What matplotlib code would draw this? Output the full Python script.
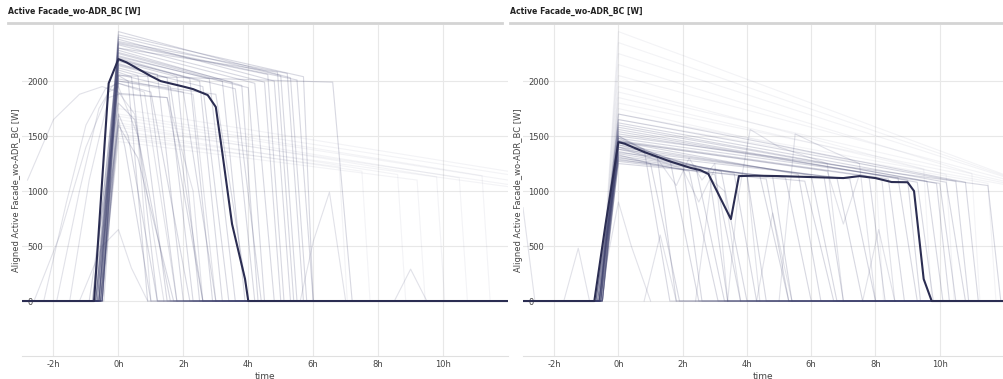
import matplotlib.pyplot as plt
from matplotlib.lines import Line2D

plt.rcParams['font.family'] = 'DejaVu Sans'

T0, T1 = -2.97, 12.0
title = 'Active Facade_wo-ADR_BC [W]'
ylab = 'Aligned Active Facade_wo-ADR_BC [W]'
xticks = [-2, 0, 2, 4, 6, 8, 10]
xticklabels = ['-2h', '0h', '2h', '4h', '6h', '8h', '10h']
yticks = [0, 500, 1000, 1500, 2000]

# ---- left panel ----
# aligned mean profile
left_mean_t = [T0, -0.75, -0.3, 0, 0.25, 1, 1.3, 2, 2.3, 2.75, 3, 3.2, 3.5, 3.9, 4, T1]
left_mean_w = [0, 0, 1980, 2200, 2170, 2045, 2000, 1950, 1927, 1873, 1764, 1350, 700, 200, 0, 0]

# single days: onset, value at 0h, knee time, knee value, back at zero
left_onset = [-0.6, -0.5, -0.7, -0.55, -0.65, -0.5, -0.8, -0.6, -0.7, -0.5, -0.55, -0.6,
              -0.75, -0.5, -0.65, -0.6, -0.7, -0.5, -0.55, -0.6, -0.7, -0.5, -0.65, -0.6,
              -0.55, -0.8, -0.6, -0.5, -0.7, -0.6, -0.65, -0.45, -0.9, -0.6, -0.5, -0.7]
left_peak = [2450, 2400, 2380, 2350, 2330, 2300, 2280, 2260, 2250, 2230, 2210, 2200,
             2180, 2160, 2150, 2120, 2100, 2080, 2050, 2020, 2000, 1980, 2340, 2420,
             2360, 2300, 2220, 2190, 2140, 2060, 2050, 1890, 1800, 1700, 1650, 1600]
left_knee_t = [5.3, 5.0, 4.8, 5.5, 4.5, 4.2, 3.8, 3.5, 3.2, 2.8, 2.5, 2.2,
               1.8, 1.5, 1.2, 0.9, 0.6, 0.4, 0.3, 2.0, 3.0, 1.0, 4.6, 5.7,
               5.2, 4.9, 4.0, 3.6, 2.6, 1.6, 6.6, 1.5, 0.5, 0.3, 0.2, 0.6]
left_knee_w = [2030, 2050, 2000, 2010, 1990, 1980, 1960, 1990, 2000, 2020, 2000, 2020,
               2040, 2030, 2060, 2050, 2050, 2040, 2000, 1900, 1880, 1900, 2060, 2040,
               2070, 2080, 1940, 1930, 1950, 1950, 1990, 1850, 1650, 1500, 1400, 1300]
left_zero_t = [5.8, 5.5, 5.3, 6.0, 5.0, 4.8, 4.3, 4.2, 3.9, 3.6, 3.2, 2.9,
               2.5, 2.3, 2.0, 1.8, 1.5, 1.2, 0.9, 3.0, 4.0, 2.2, 5.1, 6.0,
               5.7, 5.4, 4.5, 4.4, 3.4, 2.6, 7.2, 2.6, 1.6, 1.2, 1.0, 1.7]

# days with an early start or odd shape
left_odd = [
    ([-2.8, -2.0, -1.2, -0.5, 0, 0.5, 1.4], [1100, 1650, 1880, 1950, 1900, 1700, 0]),
    ([T0, -2.3, -1.6, -1.0, -0.4, 0, 0.8, 1.8], [0, 0, 900, 1600, 1930, 1980, 1900, 0]),
    ([T0, -1.9, -1.2, -0.6, -0.2, 0, 2.3, 3.0], [0, 0, 1000, 1750, 1950, 2000, 1880, 0]),
    ([T0, -1.5, -0.9, -0.3, 0, 1.5, 2.3, 2.6], [0, 0, 1100, 1850, 1880, 1850, 1000, 0]),
    ([T0, -2.6, -1.8, -1.0, -0.3, 0, 0.6, 1.0], [0, 0, 600, 1400, 1900, 1950, 1500, 0]),
    ([-1.2, -0.5, 0, 0.4, 0.9], [0, 500, 650, 300, 0]),
    ([5.6, 6.0, 6.5, 7.0], [0, 540, 990, 0]),
    ([8.5, 9.0, 9.5], [0, 290, 0]),
]

# very faint days that keep running late
left_faint_peak = [1750, 1700, 1680, 1650, 1620, 1600, 1580, 1550, 1520, 1500, 1480, 1450]
left_faint_end_t = [12, 12, 11.2, 12, 10.5, 9.8, 12, 8.6, 12, 7.5, 6.8, 9.2]
left_faint_end_w = [1180, 1150, 1140, 1100, 1120, 1130, 1060, 1150, 1040, 1180, 1220, 1100]

# ---- right panel ----
right_mean_t = [T0, -0.75, -0.4, 0, 0.2, 0.8, 1.6, 2.25, 2.55, 2.8, 3.5, 3.75, 4.25, 5,
                7, 7.5, 8, 8.5, 9, 9.2, 9.5, 9.75, T1]
right_mean_w = [0, 0, 700, 1445, 1430, 1355, 1270, 1210, 1190, 1155, 745, 1136, 1140, 1136,
                1118, 1136, 1118, 1082, 1080, 1000, 200, 0, 0]

right_faint_peak = [2450, 2350, 2250, 2150, 2050, 1950, 1900, 1850, 1800, 1750, 1700, 1650]
right_faint_end_t = [12, 12, 12, 11.0, 12, 9.5, 12, 10.2, 12, 8.0, 12, 11.5]
right_faint_end_w = [1150, 1140, 1130, 1160, 1110, 1200, 1090, 1150, 1075, 1220, 1060, 1070]

right_onset = [-0.6, -0.55, -0.7, -0.5, -0.65, -0.6, -0.5, -0.7, -0.55, -0.6, -0.65, -0.5,
               -0.6, -0.7, -0.55, -0.5, -0.65, -0.6, -0.7, -0.5, -0.55, -0.6, -0.65, -0.5,
               -0.6, -0.7, -0.55, -0.5, -0.6, -0.65, -0.7, -0.5, -0.6, -0.55]
right_peak = [1700, 1650, 1620, 1600, 1580, 1560, 1540, 1520, 1500, 1480, 1460, 1450,
              1500, 1480, 1460, 1440, 1420, 1400, 1380, 1360, 1340, 1320, 1300, 1280,
              1450, 1420, 1400, 1380, 1350, 1330, 1310, 1290, 1270, 1250]
right_knee_t = [10.8, 10.5, 10.2, 9.9, 9.6, 9.3, 9.0, 8.7, 11.5, 10.0, 8.4, 7.8,
                0.8, 1.2, 1.6, 2.0, 2.4, 2.8, 3.2, 3.6, 4.0, 4.4, 4.8, 5.2,
                5.6, 6.0, 6.4, 6.8, 7.2, 1.0, 2.2, 3.0, 4.6, 5.8]
right_knee_w = [1080, 1090, 1080, 1070, 1090, 1080, 1100, 1120, 1050, 1070, 1110, 1130,
                1380, 1330, 1290, 1260, 1230, 1200, 1180, 1160, 1150, 1140, 1130, 1120,
                1150, 1140, 1130, 1120, 1110, 1250, 1180, 1150, 1110, 1090]
right_zero_t = [11.2, 10.9, 10.8, 10.3, 10.1, 9.8, 9.4, 9.3, 11.9, 10.5, 8.9, 8.3,
                1.6, 1.8, 2.5, 2.6, 3.3, 3.4, 4.0, 4.3, 4.6, 5.3, 5.4, 6.0,
                6.3, 6.8, 7.0, 7.6, 8.0, 1.9, 3.1, 3.8, 5.3, 6.7]

right_odd = [
    ([T0, -2.6], [850, 0]),
    ([-1.7, -1.25, -0.9], [0, 480, 0]),
    ([-0.6, 0, 0.4, 1.0], [0, 900, 500, 0]),
    ([3.4, 3.7, 4.1, 5.0, 6.5, 7.0], [0, 900, 1560, 1400, 1250, 0]),
    ([5.0, 5.5, 6.5, 7.5, 8.0], [0, 1520, 1380, 1250, 0]),
    ([-0.6, 0, 1.2, 1.8, 2.2, 2.6, 3.0, 3.4], [0, 1500, 1300, 1050, 1300, 1100, 1250, 0]),
    ([-0.6, 0, 2.0, 2.5, 3.0, 4.0, 4.4], [0, 1400, 1200, 900, 1200, 1150, 0]),
    ([-0.6, 0, 6.5, 7.0, 7.5, 8.2, 8.6], [0, 1450, 1180, 700, 1150, 1100, 0]),
    ([0.8, 1.3, 1.8], [0, 600, 0]),
    ([4.3, 4.8, 5.4], [0, 800, 0]),
    ([7.6, 8.1, 8.6], [0, 650, 0]),
    ([2.4, 2.9, 3.3, 3.8], [0, 1100, 1000, 0]),
]

line_col = '#3a3d6b'
mean_col = '#2b2d52'


def day_line(onset, peak, knee_t, knee_w, zero_t):
    return [T0, onset, 0, knee_t, zero_t, T1], [0, 0, peak, knee_w, 0, 0]


def faint_line(onset, peak, end_t, end_w):
    if end_t >= T1:
        return [T0, onset, 0, T1], [0, 0, peak, end_w]
    return [T0, onset, 0, end_t, end_t + 0.25, T1], [0, 0, peak, end_w, 0, 0]


def style_axes(ax):
    ax.set_xlim(T0, T1)
    ax.set_ylim(-500, 2510)
    ax.set_xticks(xticks)
    ax.set_xticklabels(xticklabels)
    ax.set_yticks(yticks)
    ax.grid(True, color='#e8e8e8', lw=0.8, zorder=0)
    for s in ['top', 'right', 'left']:
        ax.spines[s].set_visible(False)
    ax.spines['bottom'].set_color('#e0e0e0')
    ax.tick_params(axis='both', length=0, labelsize=6, colors='#444444')
    ax.tick_params(axis='x', pad=3)
    ax.tick_params(axis='y', pad=-4)
    for lbl in ax.get_yticklabels():
        lbl.set_ha('left')
    ax.set_xlabel('time', fontsize=6.5, color='#444444', labelpad=2)


fig = plt.figure(figsize=(10.04, 3.79), dpi=100)
W, H = 1004, 379
ax1 = fig.add_axes([22 / W, 23 / H, 486 / W, 331 / H])
ax2 = fig.add_axes([523 / W, 23 / H, 481 / W, 331 / H])

# left
for i in range(len(left_faint_peak)):
    t, w = faint_line(-0.55, left_faint_peak[i], left_faint_end_t[i], left_faint_end_w[i])
    ax1.plot(t, w, color=line_col, alpha=0.06, lw=0.8)
for i in range(len(left_onset)):
    t, w = day_line(left_onset[i], left_peak[i], left_knee_t[i], left_knee_w[i], left_zero_t[i])
    ax1.plot(t, w, color=line_col, alpha=0.2, lw=0.8)
for t, w in left_odd:
    ax1.plot(t, w, color=line_col, alpha=0.15, lw=0.8)
ax1.plot(left_mean_t, left_mean_w, color=mean_col, lw=1.5)

# right
for i in range(len(right_faint_peak)):
    t, w = faint_line(-0.55, right_faint_peak[i], right_faint_end_t[i], right_faint_end_w[i])
    ax2.plot(t, w, color=line_col, alpha=0.06, lw=0.8)
for i in range(len(right_onset)):
    t, w = day_line(right_onset[i], right_peak[i], right_knee_t[i], right_knee_w[i], right_zero_t[i])
    ax2.plot(t, w, color=line_col, alpha=0.2, lw=0.8)
for t, w in right_odd:
    ax2.plot(t, w, color=line_col, alpha=0.15, lw=0.8)
ax2.plot(right_mean_t, right_mean_w, color=mean_col, lw=1.5)

for ax in [ax1, ax2]:
    style_axes(ax)

# panel titles with grey rule underneath
fig.text(8 / W, 1 - 11 / H, title, fontsize=5.6, weight='bold', va='center', color='#222222')
fig.text(510 / W, 1 - 11 / H, title, fontsize=5.6, weight='bold', va='center', color='#222222')
fig.add_artist(Line2D([8 / W, 502 / W], [1 - 23 / H] * 2, color='#d4d4d4', lw=2))
fig.add_artist(Line2D([510 / W, 1.0], [1 - 23 / H] * 2, color='#d4d4d4', lw=2))

fig.text(17 / W, 1 - 190 / H, ylab, rotation=90, fontsize=6, ha='center', va='center', color='#444444')
fig.text(519 / W, 1 - 190 / H, ylab, rotation=90, fontsize=6, ha='center', va='center', color='#444444')

fig.savefig('out.png', dpi=100)
